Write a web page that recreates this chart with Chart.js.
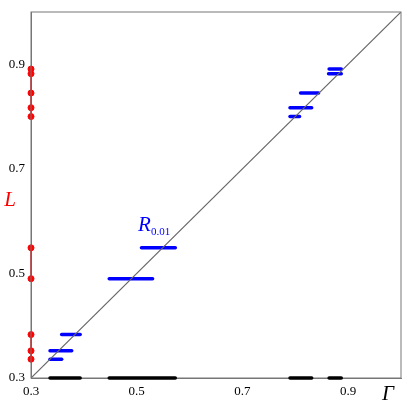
<!DOCTYPE html>
<html><head><meta charset="utf-8">
<script src="https://cdn.jsdelivr.net/npm/chart.js@4"></script>
<style>html,body{margin:0;padding:0;background:#fff}#w{width:415px;height:407px}</style>
</head><body><div id="w"><canvas id="c"></canvas></div>
<script>
// Red vertical ranges of L at Γ = 0.3
const redPoints = [0.891, 0.882, 0.845, 0.817, 0.80, 0.549, 0.49, 0.383, 0.352, 0.336];
const redRanges = [[0.80, 0.891], [0.49, 0.549], [0.336, 0.383]];
// Blue horizontal segments: [L value, Γ start, Γ end]
const blueSegs = [
  [0.891, 0.864, 0.887], [0.882, 0.863, 0.887], [0.845, 0.810, 0.844],
  [0.817, 0.790, 0.831], [0.80, 0.790, 0.808], [0.549, 0.509, 0.573],
  [0.49, 0.448, 0.530], [0.383, 0.358, 0.393], [0.352, 0.336, 0.377],
  [0.336, 0.336, 0.358]
];
// Black segments along Γ axis
const blackSegs = [[0.336, 0.393], [0.448, 0.573], [0.790, 0.831], [0.864, 0.887]];
const tickLabels = ['0.3', '0.5', '0.7', '0.9'];

const ds = [];
ds.push({data: [{x: 0.3, y: 0.3}, {x: 1, y: 1}], borderColor: '#666', borderWidth: 1.2, pointRadius: 0});
blueSegs.forEach(s => ds.push({data: [{x: s[1], y: s[0]}, {x: s[2], y: s[0]}], borderColor: '#0000ff', borderWidth: 3.5, borderCapStyle: 'round', pointRadius: 0}));
redRanges.forEach(r => ds.push({data: [{x: 0.3, y: r[0]}, {x: 0.3, y: r[1]}], borderColor: '#ff0000', borderWidth: 1.5, pointRadius: 0, clip: false}));
ds.push({type: 'scatter', data: redPoints.map(v => ({x: 0.3, y: v})), backgroundColor: '#ff0000', borderColor: '#ff0000', pointRadius: 3, clip: false});

const textPlugin = {
  id: 'txt',
  afterDraw(ch) {
    const c = ch.ctx, a = ch.chartArea, xs = ch.scales.x, ys = ch.scales.y;
    c.save();
    c.strokeStyle = '#777'; c.lineWidth = 1;
    c.strokeRect(a.left, a.top, a.right - a.left, a.bottom - a.top);
    // black segments on the Γ axis, drawn on top of the axis
    c.strokeStyle = '#000'; c.lineWidth = 3.5; c.lineCap = 'round';
    blackSegs.forEach(s => {
      c.beginPath();
      c.moveTo(xs.getPixelForValue(s[0]), ys.getPixelForValue(0.3));
      c.lineTo(xs.getPixelForValue(s[1]), ys.getPixelForValue(0.3));
      c.stroke();
    });
    c.font = 'italic 21px "Liberation Serif"';
    c.fillStyle = '#ff0000'; c.textAlign = 'center'; c.textBaseline = 'middle';
    c.fillText('L', 10, ys.getPixelForValue(0.64));
    c.fillStyle = '#000';
    c.fillText('Γ', 388, 394);
    c.fillStyle = '#0000ff'; c.textAlign = 'left';
    c.fillText('R', 138, 225);
    c.font = '11px "Liberation Serif"';
    c.fillText('0.01', 151, 232);
    c.restore();
  }
};

new Chart(document.getElementById('c'), {
  type: 'line',
  data: {datasets: ds},
  options: {
    responsive: true, maintainAspectRatio: false, animation: false,
    layout: {padding: {top: 12, right: 14, left: 0, bottom: 0}},
    plugins: {legend: {display: false}, tooltip: {enabled: false}},
    scales: {
      x: {type: 'linear', min: 0.3, max: 1.0,
        grid: {display: false, drawTicks: true, tickLength: 4, color: '#777'},
        border: {color: '#777'},
        afterFit(s) { s.height = 29; },
        ticks: {stepSize: 0.1, color: '#000', font: {family: 'Liberation Serif', size: 13}, maxRotation: 0, padding: 2,
          callback: v => { const t = v.toFixed(1); return tickLabels.includes(t) ? t : ''; }}},
      y: {type: 'linear', min: 0.3, max: 1.0,
        grid: {display: false, drawTicks: true, tickLength: 4, color: '#777'},
        border: {color: '#777'},
        afterFit(s) { s.width = 31; },
        ticks: {stepSize: 0.1, color: '#000', font: {family: 'Liberation Serif', size: 13}, padding: 2,
          callback: v => { const t = v.toFixed(1); return tickLabels.includes(t) ? t : ''; }}}
    }
  },
  plugins: [textPlugin]
});
</script></body></html>
